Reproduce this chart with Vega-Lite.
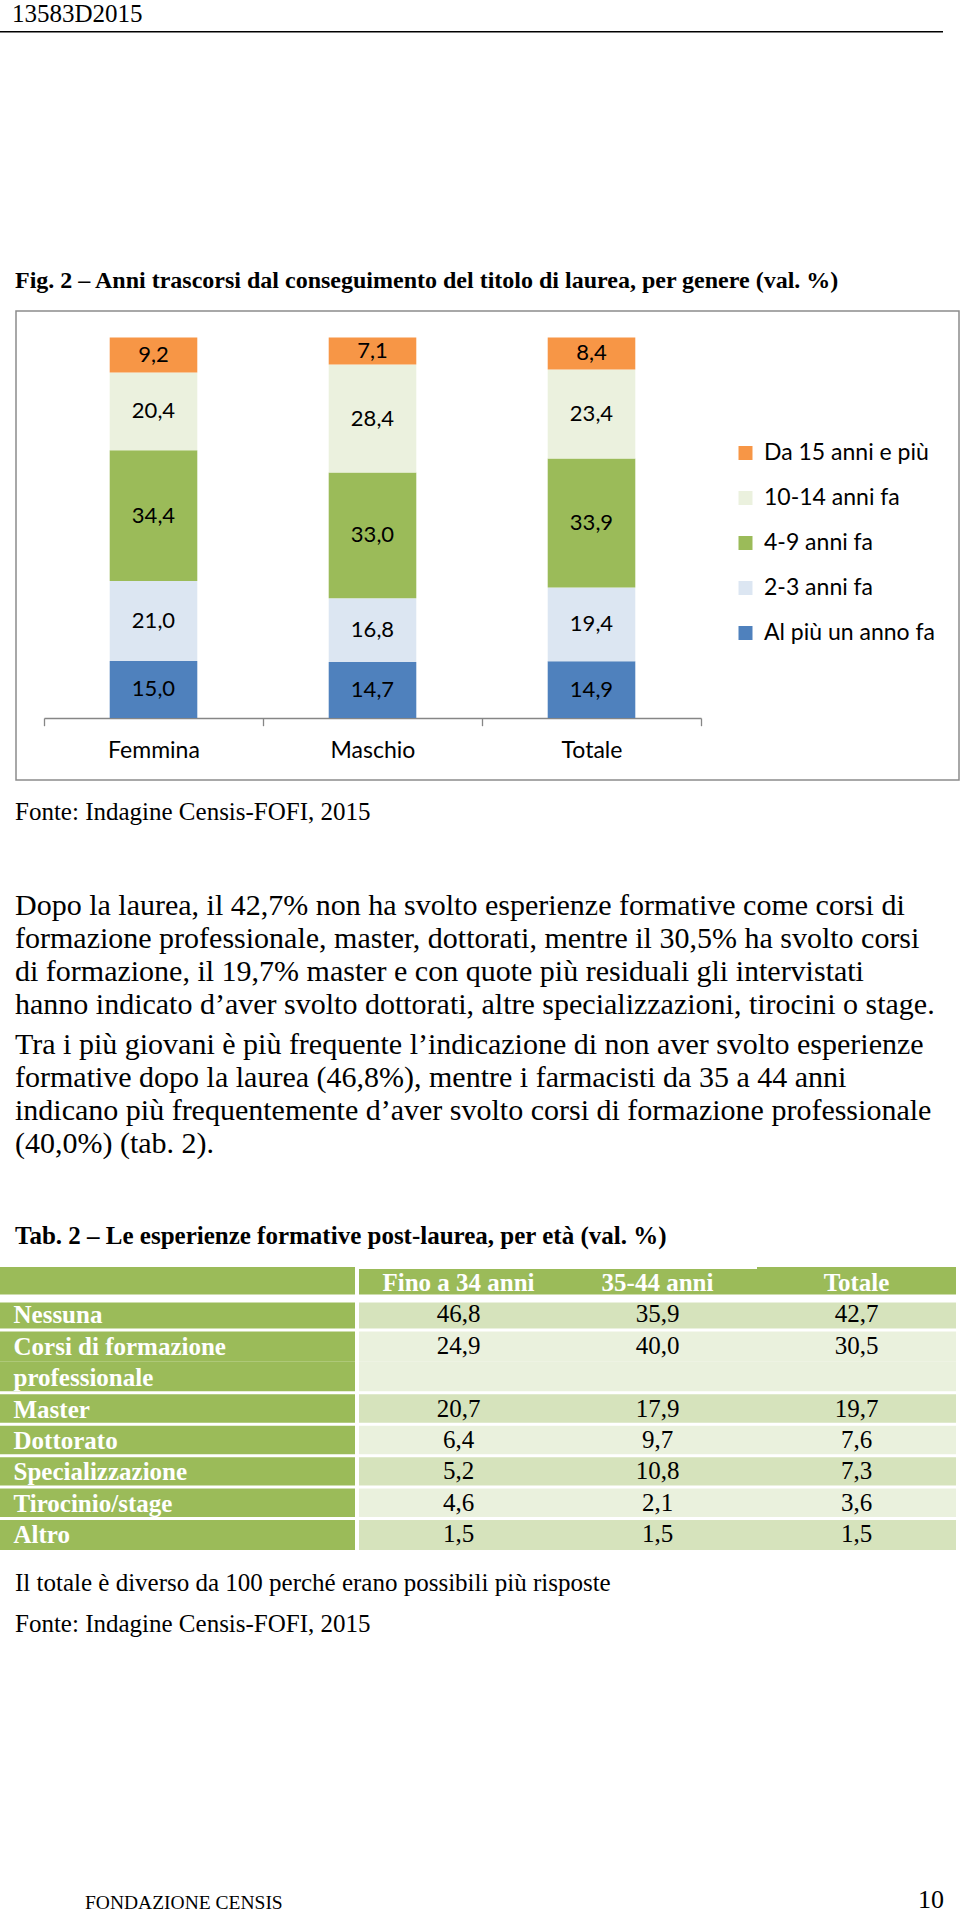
{
  "$schema": "https://vega.github.io/schema/vega-lite/v6.json",
  "padding": {"left": 0, "top": 2, "right": 0, "bottom": 0},
  "background": "white",
  "spacing": 0,
  "resolve": {"scale": {"color": "independent"}, "legend": {"color": "independent"}},
  "config": {
    "view": {"stroke": null},
    "concat": {"spacing": 0},
    "locale": {"number": {"decimal": ",", "thousands": ".", "grouping": [3], "currency": ["", " €"]}},
    "title": {"anchor": "start", "font": "Liberation Serif", "color": "#000", "fontWeight": "normal", "subtitleFont": "Liberation Serif", "subtitleColor": "#000", "subtitleFontWeight": "normal", "offset": 0, "limit": 1000}
  },
  "datasets": {
    "barre": [
      {"genere": "Femmina", "periodo": "Al più un anno fa", "valore": 15.0},
      {"genere": "Femmina", "periodo": "2-3 anni fa", "valore": 21.0},
      {"genere": "Femmina", "periodo": "4-9 anni fa", "valore": 34.4},
      {"genere": "Femmina", "periodo": "10-14 anni fa", "valore": 20.4},
      {"genere": "Femmina", "periodo": "Da 15 anni e più", "valore": 9.2},
      {"genere": "Maschio", "periodo": "Al più un anno fa", "valore": 14.7},
      {"genere": "Maschio", "periodo": "2-3 anni fa", "valore": 16.8},
      {"genere": "Maschio", "periodo": "4-9 anni fa", "valore": 33.0},
      {"genere": "Maschio", "periodo": "10-14 anni fa", "valore": 28.4},
      {"genere": "Maschio", "periodo": "Da 15 anni e più", "valore": 7.1},
      {"genere": "Totale", "periodo": "Al più un anno fa", "valore": 14.9},
      {"genere": "Totale", "periodo": "2-3 anni fa", "valore": 19.4},
      {"genere": "Totale", "periodo": "4-9 anni fa", "valore": 33.9},
      {"genere": "Totale", "periodo": "10-14 anni fa", "valore": 23.4},
      {"genere": "Totale", "periodo": "Da 15 anni e più", "valore": 8.4}
    ],
    "tabella": [
      {"voce": "Nessuna", "eta": "Fino a 34 anni", "valore": 46.8},
      {"voce": "Nessuna", "eta": "35-44 anni", "valore": 35.9},
      {"voce": "Nessuna", "eta": "Totale", "valore": 42.7},
      {"voce": "Corsi di formazione", "eta": "Fino a 34 anni", "valore": 24.9},
      {"voce": "Corsi di formazione", "eta": "35-44 anni", "valore": 40.0},
      {"voce": "Corsi di formazione", "eta": "Totale", "valore": 30.5},
      {"voce": "Master", "eta": "Fino a 34 anni", "valore": 20.7},
      {"voce": "Master", "eta": "35-44 anni", "valore": 17.9},
      {"voce": "Master", "eta": "Totale", "valore": 19.7},
      {"voce": "Dottorato", "eta": "Fino a 34 anni", "valore": 6.4},
      {"voce": "Dottorato", "eta": "35-44 anni", "valore": 9.7},
      {"voce": "Dottorato", "eta": "Totale", "valore": 7.6},
      {"voce": "Specializzazione", "eta": "Fino a 34 anni", "valore": 5.2},
      {"voce": "Specializzazione", "eta": "35-44 anni", "valore": 10.8},
      {"voce": "Specializzazione", "eta": "Totale", "valore": 7.3},
      {"voce": "Tirocinio/stage", "eta": "Fino a 34 anni", "valore": 4.6},
      {"voce": "Tirocinio/stage", "eta": "35-44 anni", "valore": 2.1},
      {"voce": "Tirocinio/stage", "eta": "Totale", "valore": 3.6},
      {"voce": "Altro", "eta": "Fino a 34 anni", "valore": 1.5},
      {"voce": "Altro", "eta": "35-44 anni", "valore": 1.5},
      {"voce": "Altro", "eta": "Totale", "valore": 1.5}
    ],
    "righe": [
      {"riga": "intestazione"},
      {"riga": "Nessuna"},
      {"riga": "Corsi di formazione"},
      {"riga": "professionale"},
      {"riga": "Master"},
      {"riga": "Dottorato"},
      {"riga": "Specializzazione"},
      {"riga": "Tirocinio/stage"},
      {"riga": "Altro"}
    ]
  },
  "vconcat": [
    {
      "width": 943, "height": 1.5,
      "view": {"fill": "#000", "stroke": null},
      "data": {"values": []},
      "mark": "rect",
      "title": {"text": "13583D2015", "fontSize": 25, "dx": 12, "offset": 4}
    },
    {
      "width": 1, "height": 235.5,
      "data": {"values": []},
      "mark": "rect"
    },
    {
      "title": {"text": "Fig. 2 – Anni trascorsi dal conseguimento del titolo di laurea, per genere (val. %)", "fontSize": 24, "fontWeight": "bold", "dx": 15, "offset": 17},
      "spacing": 0,
      "hconcat": [
        {
          "width": 15, "height": 489,
          "data": {"values": []},
          "mark": "rect"
        },
        {
          "width": 943, "height": 469,
          "view": {"stroke": "#8c8c8c", "strokeWidth": 1.5},
          "data": {"name": "barre"},
          "transform": [{"stack": "valore", "groupby": ["genere"], "as": ["v0", "v1"]}],
          "encoding": {
            "x": {
              "field": "genere", "type": "nominal", "sort": ["Femmina", "Maschio", "Totale"],
              "scale": {"range": [28, 685], "paddingInner": 0, "paddingOuter": 0},
              "axis": {"title": null, "orient": "bottom", "offset": -62, "tickBand": "extent", "tickSize": 7.7, "tickColor": "#868686", "tickWidth": 1.3, "domainColor": "#868686", "domainWidth": 1.5, "labelFont": "Lato", "labelFontSize": 23, "labelColor": "#000", "labelPadding": 14, "labelAngle": 0, "grid": false}
            }
          },
          "layer": [
            {
              "mark": {"type": "bar", "width": {"band": 0.4}},
              "encoding": {
                "y": {"field": "v0", "type": "quantitative", "scale": {"domain": [0, 100], "range": [407, 26.5]}, "axis": null},
                "y2": {"field": "v1"},
                "color": {
                  "field": "periodo", "type": "nominal",
                  "scale": {"domain": ["Da 15 anni e più", "10-14 anni fa", "4-9 anni fa", "2-3 anni fa", "Al più un anno fa"], "range": ["#F79646", "#EBF1DE", "#9BBB59", "#DCE6F2", "#4F81BD"]},
                  "legend": {"title": null, "orient": "none", "legendX": 734, "legendY": 130.5, "symbolType": "square", "symbolSize": 196, "symbolStrokeWidth": 0, "labelFont": "Lato", "labelFontSize": 23, "labelColor": "#000", "rowPadding": 21, "labelOffset": 7, "padding": 0, "labelLimit": 400}
                }
              }
            },
            {
              "transform": [{"fold": ["v0", "v1"], "as": ["estremo", "quota"]}],
              "mark": {"type": "text", "font": "Lato", "fontSize": 22, "color": "#000", "baseline": "middle"},
              "encoding": {
                "y": {"aggregate": "mean", "field": "quota", "type": "quantitative", "stack": null},
                "detail": {"field": "periodo", "type": "nominal"},
                "text": {"field": "valore", "type": "quantitative", "format": ".1f"}
              }
            }
          ]
        }
      ]
    },
    {
      "width": 960, "height": 60.8,
      "data": {"values": []},
      "mark": "rect",
      "title": {"text": "Fonte: Indagine Censis-FOFI, 2015", "fontSize": 25, "dx": 15}
    },
    {
      "width": 960, "height": 60.7,
      "data": {"values": []},
      "mark": "rect",
      "title": {
        "text": ["Dopo la laurea, il 42,7% non ha svolto esperienze formative come corsi di", "formazione professionale, master, dottorati, mentre il 30,5% ha svolto corsi", "di formazione, il 19,7% master e con quote più residuali gli intervistati", "hanno indicato d’aver svolto dottorati, altre specializzazioni, tirocini o stage."],
        "subtitle": ["Tra i più giovani è più frequente l’indicazione di non aver svolto esperienze", "formative dopo la laurea (46,8%), mentre i farmacisti da 35 a 44 anni", "indicano più frequentemente d’aver svolto corsi di formazione professionale", "(40,0%) (tab. 2)."],
        "fontSize": 30, "lineHeight": 33, "subtitleFontSize": 30, "subtitleLineHeight": 33, "subtitlePadding": 10.5, "dx": 15
      }
    },
    {
      "title": {"text": "Tab. 2 – Le esperienze formative post-laurea, per età (val. %)", "fontSize": 25, "fontWeight": "bold", "dx": 15, "offset": 18},
      "spacing": 4,
      "hconcat": [
        {
          "width": 355, "height": 283,
          "data": {"name": "righe"},
          "encoding": {
            "y": {"field": "riga", "type": "nominal", "sort": null,
              "scale": {"domain": ["intestazione", "Nessuna", "Corsi di formazione", "professionale", "Master", "Dottorato", "Specializzazione", "Tirocinio/stage", "Altro"], "paddingInner": 0, "paddingOuter": 0},
              "axis": {"title": null, "orient": "left", "domain": false, "ticks": false, "tickSize": 0, "labelAlign": "left", "labelBaseline": "middle", "labelPadding": -13, "labelOffset": 1, "labelFont": "Liberation Serif", "labelFontWeight": "bold", "labelFontSize": 25, "labelColor": "#fff", "labelLimit": 400, "labelOverlap": false, "zindex": 1, "grid": false, "minExtent": 0, "labelExpr": "datum.label == 'intestazione' ? '' : datum.label"}}
          },
          "layer": [
            {"mark": {"type": "rect", "color": "#9BBB59"}},
            {
              "transform": [{"filter": "datum.riga != 'intestazione' && datum.riga != 'professionale' && datum.riga != 'Nessuna'"}],
              "mark": {"type": "rule", "color": "#fff", "strokeWidth": 3, "clip": true},
              "encoding": {"y": {"field": "riga", "type": "nominal", "bandPosition": 0}}
            },
            {
              "transform": [{"filter": "datum.riga == 'Nessuna'"}],
              "mark": {"type": "rule", "color": "#fff", "strokeWidth": 8, "clip": true},
              "encoding": {"y": {"field": "riga", "type": "nominal", "bandPosition": 0}}
            }
          ]
        },
        {
          "width": 597, "height": 283,
          "encoding": {
            "y": {"field": "riga", "type": "nominal", "sort": null,
              "scale": {"domain": ["intestazione", "Nessuna", "Corsi di formazione", "professionale", "Master", "Dottorato", "Specializzazione", "Tirocinio/stage", "Altro"], "paddingInner": 0, "paddingOuter": 0},
              "axis": null}
          },
          "layer": [
            {
              "data": {"name": "righe"},
              "mark": {"type": "rect"},
              "encoding": {
                "color": {"field": "riga", "type": "nominal", "legend": null,
                  "scale": {"domain": ["intestazione", "Nessuna", "Corsi di formazione", "professionale", "Master", "Dottorato", "Specializzazione", "Tirocinio/stage", "Altro"], "range": ["#9BBB59", "#D6E3BC", "#EAF1DD", "#EAF1DD", "#D6E3BC", "#EAF1DD", "#D6E3BC", "#EAF1DD", "#D6E3BC"]}}
              }
            },
            {
              "data": {"name": "righe"},
              "transform": [{"filter": "datum.riga != 'intestazione' && datum.riga != 'professionale' && datum.riga != 'Nessuna'"}],
              "mark": {"type": "rule", "color": "#fff", "strokeWidth": 3, "clip": true},
              "encoding": {"y": {"field": "riga", "type": "nominal", "bandPosition": 0}}
            },
            {
              "data": {"name": "righe"},
              "transform": [{"filter": "datum.riga == 'Nessuna'"}],
              "mark": {"type": "rule", "color": "#fff", "strokeWidth": 8, "clip": true},
              "encoding": {"y": {"field": "riga", "type": "nominal", "bandPosition": 0}}
            },
            {
              "data": {"name": "tabella"},
              "transform": [{"filter": "datum.voce == 'Nessuna' && datum.eta != 'Fino a 34 anni'"}],
              "mark": {"type": "rule", "color": "#fff", "strokeWidth": 4, "clip": true},
              "encoding": {"x": {"field": "eta", "type": "nominal", "bandPosition": 0, "sort": ["Fino a 34 anni", "35-44 anni", "Totale"], "scale": {"domain": ["Fino a 34 anni", "35-44 anni", "Totale"], "paddingInner": 0, "paddingOuter": 0}, "axis": null}}
            },
            {
              "data": {"name": "tabella"},
              "mark": {"type": "text", "font": "Liberation Serif", "fontSize": 25, "color": "#000", "baseline": "middle"},
              "encoding": {
                "x": {"field": "eta", "type": "nominal", "sort": ["Fino a 34 anni", "35-44 anni", "Totale"], "axis": null},
                "y": {"field": "voce", "type": "nominal"},
                "text": {"field": "valore", "type": "quantitative", "format": ".1f"}
              }
            },
            {
              "data": {"name": "tabella"},
              "transform": [{"filter": "datum.voce == 'Nessuna'"}],
              "mark": {"type": "text", "font": "Liberation Serif", "fontSize": 25, "fontWeight": "bold", "color": "#fff", "baseline": "middle"},
              "encoding": {
                "x": {"field": "eta", "type": "nominal", "sort": ["Fino a 34 anni", "35-44 anni", "Totale"], "axis": null},
                "y": {"datum": "intestazione", "type": "nominal"},
                "text": {"field": "eta", "type": "nominal"}
              }
            }
          ]
        },
        {
          "width": 0, "height": 303,
          "data": {"values": []},
          "mark": "rect"
        }
      ]
    },
    {
      "width": 960, "height": 246,
      "data": {"values": []},
      "mark": "rect",
      "title": {
        "text": "Il totale è diverso da 100 perché erano possibili più risposte",
        "subtitle": "Fonte: Indagine Censis-FOFI, 2015",
        "fontSize": 25, "subtitleFontSize": 25, "subtitlePadding": 16.3, "dx": 15
      }
    },
    {
      "spacing": 4,
      "hconcat": [
        {
          "width": 914, "height": 0,
          "data": {"values": []},
          "mark": "rect",
          "title": {"text": "FONDAZIONE CENSIS", "fontSize": 19.5, "dx": 85}
        },
        {
          "width": 40, "height": 0,
          "data": {"values": []},
          "mark": "rect",
          "title": {"text": "10", "fontSize": 26}
        }
      ]
    }
  ]
}
